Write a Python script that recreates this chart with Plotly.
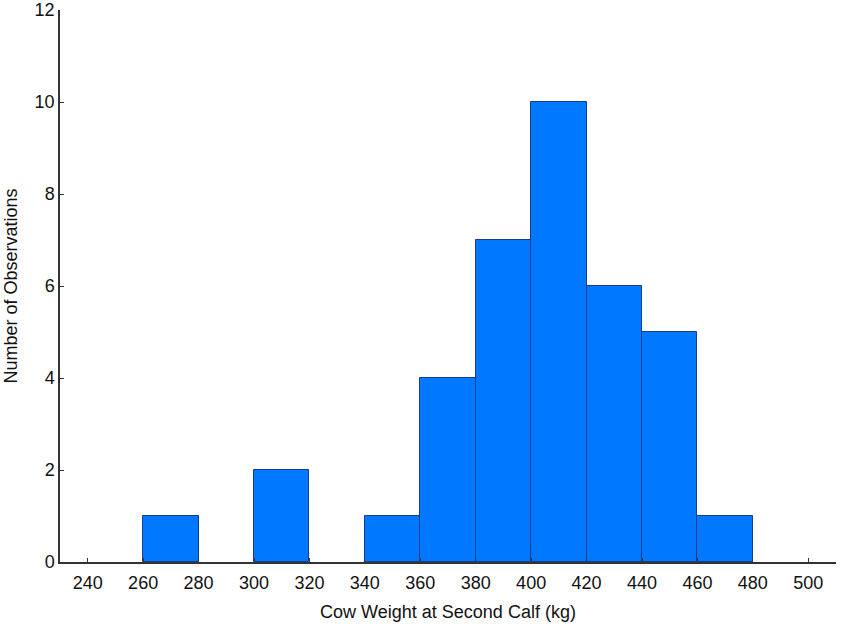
import plotly.graph_objects as go

bin_starts = [260, 300, 340, 360, 380, 400, 420, 440, 460]
counts = [1, 2, 1, 4, 7, 10, 6, 5, 1]
bin_width = 20
x_ticks = list(range(240, 501, 20))
y_ticks = list(range(0, 13, 2))

centers = [b + bin_width / 2 for b in bin_starts]

fig = go.Figure(go.Bar(
    x=centers, y=counts, width=[bin_width] * len(counts),
    marker=dict(color="#0078FF", line=dict(color="#1A3C8C", width=1)),
))

font = dict(family="Liberation Sans, Arial, sans-serif", size=18, color="#111")
fig.update_layout(
    width=846, height=629,
    margin=dict(l=60, r=10, t=10, b=67),
    plot_bgcolor="white", paper_bgcolor="white",
    showlegend=False,
    font=font,
    bargap=0,
)
fig.update_xaxes(
    range=[230, 510], tickvals=x_ticks, ticktext=[str(v) for v in x_ticks],
    showline=True, linecolor="#333", linewidth=1.5,
    ticks="inside", ticklen=4, tickcolor="#333", ticklabelstandoff=4,
    showgrid=False, zeroline=False, automargin=False,
    title=dict(text="Cow Weight at Second Calf (kg)", font=dict(size=18), standoff=13),
)
fig.update_yaxes(
    range=[0, 12], tickvals=y_ticks,
    showline=True, linecolor="#333", linewidth=1.5,
    ticks="inside", ticklen=4, tickcolor="#333",
    showgrid=False, zeroline=False, automargin=False,
    title=dict(text="Number of Observations", font=dict(size=18), standoff=12),
)
fig.write_html("out.html")
